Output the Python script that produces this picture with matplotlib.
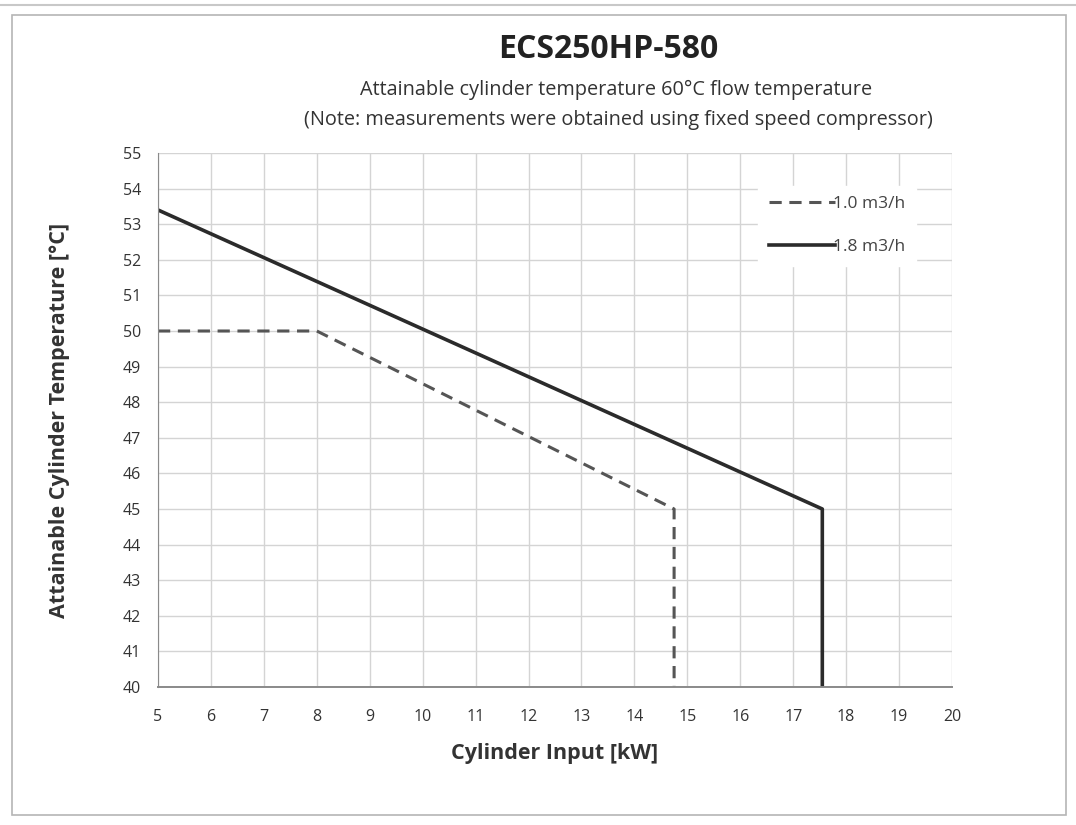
import matplotlib.pyplot as plt
from matplotlib.patches import Rectangle
from matplotlib.lines import Line2D

# flow 1.0 m3/h (dashed)
x_10 = [5, 8, 14.75, 14.75]
y_10 = [50, 50, 45, 40]
# flow 1.8 m3/h (solid)
x_18 = [5, 17.55, 17.55]
y_18 = [53.4, 45, 40]

x_ticks = list(range(5, 21))
y_ticks = list(range(40, 56))

plt.rcParams['font.family'] = ['Open Sans', 'DejaVu Sans']

fig = plt.figure(figsize=(10.76, 8.25), dpi=100)
fig.patches.append(Rectangle((12 / 1076, 1 - 815 / 825), 1054 / 1076, 800 / 825,
                             transform=fig.transFigure, fill=False,
                             edgecolor="#b5b5b5", linewidth=1.2))
fig.add_artist(Line2D([0, 1], [1 - 5 / 825] * 2, transform=fig.transFigure,
                      color="#c8c8c8", linewidth=1.5))

ax = fig.add_axes([158 / 1076, 1 - 687 / 825, 794 / 1076, 534 / 825])
ax.plot(x_10, y_10, color="#555555", linestyle=(0, (4, 2.5)), linewidth=2.2, label="1.0 m3/h")
ax.plot(x_18, y_18, color="#2b2b2b", linewidth=2.6, label="1.8 m3/h")

ax.set_xlim(5, 20)
ax.set_ylim(40, 55)
ax.set_xticks(x_ticks)
ax.set_yticks(y_ticks)
ax.grid(True, color="#d4d4d4", linewidth=1.0)
ax.tick_params(length=0, labelsize=11.5, colors="#333333")
ax.tick_params(axis="x", pad=16)
ax.tick_params(axis="y", pad=12)
for s in ["top", "right"]:
    ax.spines[s].set_visible(False)
ax.spines["left"].set_color("#8a8a8a")
ax.spines["bottom"].set_color("#8a8a8a")
ax.spines["bottom"].set_linewidth(1.4)

ax.set_xlabel("Cylinder Input [kW]", fontsize=15.5, fontweight="bold", color="#333333", labelpad=13)
ax.set_ylabel("Attainable Cylinder Temperature [°C]", fontsize=15.5, fontweight="bold",
              color="#333333", labelpad=38)

leg = ax.legend(loc="upper right", bbox_to_anchor=(0.965, 0.955), frameon=True,
                fontsize=12.5, handlelength=3.8, handletextpad=-0.1, labelspacing=1.55,
                borderpad=0.6)
leg.get_frame().set_facecolor("white")
leg.get_frame().set_edgecolor("white")
leg.get_frame().set_alpha(1)
for t in leg.get_texts():
    t.set_color("#444444")

fig.text(608 / 1076, 1 - 50 / 825, "ECS250HP-580", ha="center", va="center",
         fontsize=23, fontweight="bold", color="#222222")
fig.text(616 / 1076, 1 - 90 / 825, "Attainable cylinder temperature 60°C flow temperature",
         ha="center", va="center", fontsize=14.3, color="#333333")
fig.text(618 / 1076, 1 - 120 / 825,
         "(Note: measurements were obtained using fixed speed compressor)",
         ha="center", va="center", fontsize=14.3, color="#333333")

fig.savefig("out.png", dpi=100)
